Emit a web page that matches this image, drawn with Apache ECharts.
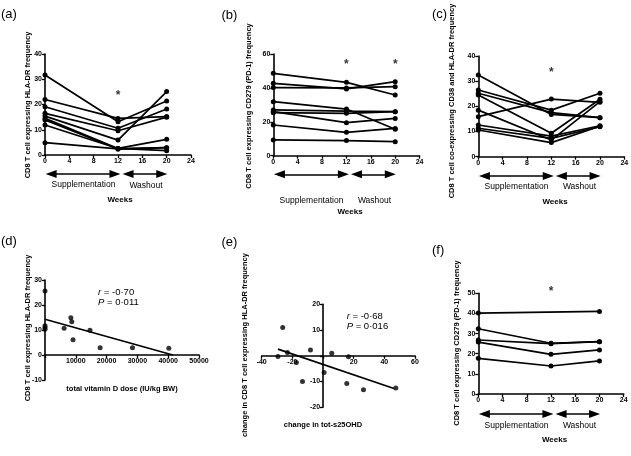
<!DOCTYPE html>
<html><head><meta charset="utf-8">
<script src="https://cdn.jsdelivr.net/npm/echarts@6/dist/echarts.min.js"></script>
<style>html,body{margin:0;padding:0;background:#fff}#c{width:631px;height:456px}</style>
</head><body><div id="c"></div>
<script>
// ---------------- data ----------------
const weeks = [0, 12, 20];
// (a) CD8 T cell expressing HLA-DR frequency, one row per subject (week 0, 12, 20)
const aHLADR = [
  [31.7, 13.2, 21.4],
  [22.0, 14.5, 15.2],
  [19.1, 10.6, 18.2],
  [16.5, 9.6, 15.0],
  [15.4, 5.9, 25.1],
  [14.5, 2.6, 6.2],
  [13.9, 2.4, 2.9],
  [11.9, 2.6, 1.7],
  [4.9, 2.4, 2.9]
];
// (b) CD8 T cell expressing CD279 (PD-1) frequency
const bPD1 = [
  [48.6, 43.3, 35.8],
  [42.7, 39.4, 43.7],
  [40.2, 40.0, 40.7],
  [31.9, 27.5, 15.6],
  [27.0, 26.3, 26.0],
  [26.0, 19.5, 22.0],
  [25.4, 25.0, 26.0],
  [18.1, 13.8, 16.1],
  [9.3, 8.9, 8.3]
];
// (c) CD8 T cell co-expressing CD38 and HLA-DR frequency
const cCD38 = [
  [32.5, 16.8, 15.5],
  [26.5, 18.5, 25.2],
  [25.2, 17.5, 15.5],
  [24.5, 9.3, 22.8],
  [18.5, 6.6, 21.9],
  [15.9, 22.9, 21.6],
  [12.6, 8.2, 12.3],
  [11.3, 7.3, 11.9],
  [10.6, 5.6, 12.1]
];
// (f) CD8 T cell expressing CD279 (PD-1) frequency (null = not measured)
const fPD1 = [
  [40.2, null, 41.0],
  [32.4, 25.2, 26.0],
  [26.8, 25.0, 26.0],
  [25.8, 19.7, 21.9],
  [17.7, 13.9, 16.4]
];
// (d) total vitamin D dose vs HLA-DR frequency
const dDose = [0, 0, 0, 0, 6200, 8400, 8700, 9100, 14600, 17900, 28400, 40200];
const dHLADR = [25.6, 11.7, 11.0, 10.3, 10.7, 14.9, 13.3, 6.1, 9.9, 2.9, 2.9, 2.7];
const dFitX = [0, 41500];
const dFitY = [14.3, 0];
// (e) change in tot-s25OHD vs change in HLA-DR frequency
const eChange25 = [-29.4, -26.3, -23.2, -17.4, -13.4, -8.2, 0.7, 5.7, 16.6, 15.5, 26.4, 47.5];
const eChangeDR = [-0.3, 11.0, 1.3, -2.6, -10.0, 2.3, -6.5, 1.0, -0.4, -10.8, -13.2, -12.5];
const eFitX = [-29.4, 46.3];
const eFitY = [2.6, -12.7];
// annotations
const starsA = [[12, 24.5]];
const starsB = [[12, 55.6], [20, 55.6]];
const starsC = [[12, 34.4]];
const starsF = [[12, 52.1]];
const arrowSpans = [[0.1, 12.4], [12.75, 20.1]];

// ---------------- layout ----------------
const FONT = '"Liberation Sans", Arial, Helvetica, sans-serif';
const R = {
  a: { left: 45, top: 54, width: 146, height: 101, arrowY: 174 },
  b: { left: 273.3, top: 54, width: 146.3, height: 101.7, arrowY: 174.3 },
  c: { left: 478.3, top: 56, width: 146, height: 100.7, arrowY: 176 },
  d: { left: 45, top: 280, width: 154, height: 100 },
  e: { left: 261.7, top: 304.3, width: 153.3, height: 103 },
  f: { left: 478.3, top: 293.3, width: 145.4, height: 100.7, arrowY: 414 }
};

const grids = [], xAxes = [], yAxes = [], series = [];

function axis(min, max, interval, hideZero, offset) {
  return {
    type: 'value', min, max, interval, offset: offset || 0,
    axisLine: { show: true, onZero: false, lineStyle: { color: '#000', width: 1.6 } },
    axisTick: { show: true, length: 3, lineStyle: { color: '#000', width: 1.3 } },
    axisLabel: {
      show: true, color: '#000', fontSize: 7, fontWeight: 'bold', fontFamily: FONT, margin: 3,
      formatter: v => (hideZero && v === 0) ? '' : String(v)
    },
    splitLine: { show: false }
  };
}
// offset (px) that places an axis on the other axis' zero
function zeroOffset(min, max, span) { return -span * (0 - min) / (max - min); }

function addGrid(r, xa, ya) {
  const i = grids.length;
  grids.push({ left: r.left, top: r.top, width: r.width, height: r.height,
    containLabel: false, outerBoundsMode: 'none' });
  xa.gridIndex = i; ya.gridIndex = i;
  xAxes.push(xa); yAxes.push(ya);
  return i;
}
function subjectSeries(g, rows) {
  rows.forEach(row => {
    const data = [];
    weeks.forEach((w, k) => { if (row[k] !== null) data.push([w, row[k]]); });
    series.push({
      type: 'line', xAxisIndex: g, yAxisIndex: g, data,
      symbol: 'circle', symbolSize: 5, showSymbol: true, clip: false,
      lineStyle: { color: '#000', width: 1.7 }, itemStyle: { color: '#000' },
      silent: true, animation: false, z: 3
    });
  });
}
function starSeries(g, pts) {
  series.push({
    type: 'scatter', xAxisIndex: g, yAxisIndex: g, data: pts, clip: false,
    symbolSize: 1, itemStyle: { color: 'rgba(0,0,0,0)' }, silent: true, animation: false,
    label: { show: true, position: 'inside', formatter: '*', color: '#000',
      fontSize: 12, fontWeight: 'bold', fontFamily: FONT, offset: [0, 3] }
  });
}
function arrowGrid(r) {
  const g = addGrid({ left: r.left, top: r.arrowY - 6, width: r.width, height: 12 },
    { type: 'value', min: 0, max: 24, show: false },
    { type: 'value', min: 0, max: 1, show: false });
  const inset = 5.5 / (r.width / 24);
  series.push({
    type: 'line', xAxisIndex: g, yAxisIndex: g, data: [], silent: true, animation: false,
    markLine: {
      silent: true, animation: false, symbol: ['triangle', 'triangle'], symbolSize: [8, 11],
      lineStyle: { color: '#000', width: 1.5, type: 'solid' }, label: { show: false },
      data: arrowSpans.map(s => [{ coord: [s[0] + inset, 0.5] }, { coord: [s[1] - inset, 0.5] }])
    }
  });
}

// time-course panels
const ga = addGrid(R.a, axis(0, 24, 4), axis(0, 40, 10));
subjectSeries(ga, aHLADR); starSeries(ga, starsA); arrowGrid(R.a);
const gb = addGrid(R.b, axis(0, 24, 4), axis(0, 60, 20));
subjectSeries(gb, bPD1); starSeries(gb, starsB); arrowGrid(R.b);
const gc = addGrid(R.c, axis(0, 24, 4), axis(0, 40, 10));
subjectSeries(gc, cCD38); starSeries(gc, starsC); arrowGrid(R.c);
const gf = addGrid(R.f, axis(0, 24, 4), axis(0, 50, 10));
subjectSeries(gf, fPD1); starSeries(gf, starsF); arrowGrid(R.f);

// correlation panels (axes cross at zero)
const gd = addGrid(R.d,
  axis(0, 50000, 10000, true, zeroOffset(-10, 30, R.d.height)),
  axis(-10, 30, 10, false, zeroOffset(0, 50000, R.d.width)));
series.push({ type: 'scatter', xAxisIndex: gd, yAxisIndex: gd, data: dDose.map((x, i) => [x, dHLADR[i]]),
  symbolSize: 5, itemStyle: { color: '#000' }, silent: true, animation: false, clip: false });
series.push({ type: 'line', xAxisIndex: gd, yAxisIndex: gd, data: dFitX.map((x, i) => [x, dFitY[i]]),
  symbol: 'none', lineStyle: { color: '#000', width: 1.7 }, silent: true, animation: false });
const ge = addGrid(R.e,
  axis(-40, 60, 20, true, zeroOffset(-20, 20, R.e.height)),
  axis(-20, 20, 10, true, zeroOffset(-40, 60, R.e.width)));
series.push({ type: 'scatter', xAxisIndex: ge, yAxisIndex: ge, data: eChange25.map((x, i) => [x, eChangeDR[i]]),
  symbolSize: 5, itemStyle: { color: '#000' }, silent: true, animation: false, clip: false });
series.push({ type: 'line', xAxisIndex: ge, yAxisIndex: ge, data: eFitX.map((x, i) => [x, eFitY[i]]),
  symbol: 'none', lineStyle: { color: '#000', width: 1.7 }, silent: true, animation: false });

// ---------------- texts ----------------
function txt(text, x, y, o) {
  o = o || {};
  return {
    type: 'text', x, y, rotation: o.rot ? Math.PI / 2 : 0, silent: true, z: 10,
    style: {
      text, fill: '#000', fontSize: o.size || 8, fontWeight: o.bold ? 'bold' : 'normal',
      fontFamily: FONT, align: o.align || 'center', verticalAlign: 'middle', rich: o.rich
    }
  };
}
const italic = { i: { fontStyle: 'italic', fontSize: 9.5, fontFamily: FONT, fill: '#000' } };
const graphics = [
  txt('(a)', 1, 14, { size: 13, align: 'left' }),
  txt('(b)', 221.5, 15, { size: 13, align: 'left' }),
  txt('(c)', 432, 14, { size: 13, align: 'left' }),
  txt('(d)', 1, 241, { size: 13, align: 'left' }),
  txt('(e)', 221.5, 242, { size: 13, align: 'left' }),
  txt('(f)', 432, 250, { size: 13, align: 'left' }),
  txt('CD8 T cell expressing HLA-DR frequency', 28, 105, { rot: 1, bold: 1, size: 7.5 }),
  txt('CD8 T cell expressing CD279 (PD-1) frequency', 249, 106, { rot: 1, bold: 1, size: 7.5 }),
  txt('CD8 T cell co-expressing CD38 and HLA-DR frequency', 452, 101, { rot: 1, bold: 1, size: 7.5 }),
  txt('CD8 T cell expressing HLA-DR frequency', 28, 328, { rot: 1, bold: 1, size: 7.5 }),
  txt('change in CD8 T cell expressing HLA-DR frequency', 245, 345, { rot: 1, bold: 1, size: 7.5 }),
  txt('CD8 T cell expressing CD279 (PD-1) frequency', 457, 343, { rot: 1, bold: 1, size: 7.5 }),
  txt('Supplementation', 83.5, 185, { size: 8.5 }),
  txt('Washout', 146, 186, { size: 8.5 }),
  txt('Weeks', 120, 200, { bold: 1, size: 8 }),
  txt('Supplementation', 311.5, 201, { size: 8.5 }),
  txt('Washout', 374.5, 201, { size: 8.5 }),
  txt('Weeks', 350, 212, { bold: 1, size: 8 }),
  txt('Supplementation', 516.5, 187, { size: 8.5 }),
  txt('Washout', 579.5, 187, { size: 8.5 }),
  txt('Weeks', 555, 201.5, { bold: 1, size: 8 }),
  txt('Supplementation', 516.5, 425.7, { size: 8.5 }),
  txt('Washout', 579.5, 426, { size: 8.5 }),
  txt('Weeks', 554.5, 440, { bold: 1, size: 8 }),
  txt('total vitamin D dose (IU/kg BW)', 122, 389, { bold: 1, size: 7.5 }),
  txt('change in tot-s25OHD', 323, 425, { bold: 1, size: 7.5 }),
  txt('{i|r} = -0·70', 98, 292, { size: 9.5, align: 'left', rich: italic }),
  txt('{i|P} = 0·011', 98, 302.5, { size: 9.5, align: 'left', rich: italic }),
  txt('{i|r} = -0·68', 346.7, 316.7, { size: 9.5, align: 'left', rich: italic }),
  txt('{i|P} = 0·016', 346.7, 326.5, { size: 9.5, align: 'left', rich: italic })
];

const chart = echarts.init(document.getElementById('c'), null, { renderer: 'canvas' });
chart.setOption({
  backgroundColor: '#fff',
  animation: false,
  grid: grids, xAxis: xAxes, yAxis: yAxes, series,
  graphic: graphics
});
</script></body></html>
